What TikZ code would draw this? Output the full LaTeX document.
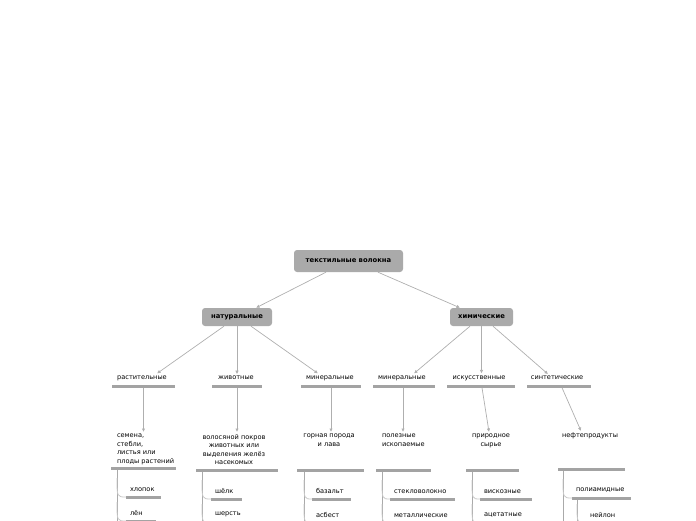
\documentclass[tikz,border=0pt]{standalone}
\usepackage{fontspec}
\setmainfont{DejaVu Sans}
\usetikzlibrary{arrows.meta, positioning}
\definecolor{boxgray}{RGB}{170,170,170}
\definecolor{bargray}{RGB}{163,163,163}
\definecolor{arrowgray}{RGB}{175,175,175}
\definecolor{trunkgray}{RGB}{170,170,170}
\definecolor{branchgray}{RGB}{200,200,200}

\begin{document}
\begin{tikzpicture}[x=1pt, y=-1pt,
    topbox/.style={rectangle, fill=boxgray, rounded corners=3pt, inner sep=0pt, font=\fontsize{6.8}{8}\selectfont\bfseries},
    lbl/.style={inner sep=0pt, outer sep=2pt, font=\fontsize{6.6}{8.6}\selectfont},
    bar/.style={rectangle, fill=bargray, inner sep=0pt, minimum height=3pt},
    conn/.style={draw=arrowgray, line width=0.7pt, -{Latex[length=3.5pt,width=3.5pt]}},
    trunk/.style={draw=trunkgray, line width=0.8pt},
    branch/.style={draw=branchgray, line width=0.8pt},
]
    \clip (0,0) rectangle (696,520);

    % top levels
    \node[topbox, minimum width=109pt, minimum height=22pt] (root) at (348.5,261) {текстильные волокна};
    \node[topbox, minimum width=70pt, minimum height=18pt] (nat) at (237,317) {натуральные};
    \node[topbox, minimum width=63pt, minimum height=18pt] (chem) at (481.5,317) {химические};

    \draw[conn] ([xshift=-22.5pt]root.south) -- ([xshift=19pt]nat.north);
    \draw[conn] ([xshift=29.5pt]root.south) -- ([xshift=-21.5pt]chem.north);

    % kinds
    \node[lbl] (plant) at (142,378) {растительные};
    \node[lbl] (animal) at (236,378) {животные};
    \node[lbl] (mineralA) at (330,378) {минеральные};
    \node[lbl] (mineralB) at (402,378) {минеральные};
    \node[lbl] (artif) at (479,378) {искусственные};
    \node[lbl] (synth) at (557,378) {синтетические};

    \node[bar, minimum width=63pt] (plantbar) at (143.5,386) {};
    \node[bar, minimum width=50pt] (animalbar) at (237,386) {};
    \node[bar, minimum width=60pt] (mineralAbar) at (331,386) {};
    \node[bar, minimum width=62pt] (mineralBbar) at (404,386) {};
    \node[bar, minimum width=68pt] (artifbar) at (481,386) {};
    \node[bar, minimum width=64pt] (synthbar) at (559,386) {};

    \draw[conn] ([xshift=-13pt]nat.south) -- ([xshift=15pt]plant.north);
    \draw[conn] (nat.south) -- (nat.south |- animal.north);
    \draw[conn] ([xshift=14pt]nat.south) -- ([xshift=-12pt]mineralA.north);
    \draw[conn] ([xshift=-11.5pt]chem.south) -- ([xshift=12pt]mineralB.north);
    \draw[conn] (chem.south) -- (chem.south |- artif.north);
    \draw[conn] ([xshift=11.5pt]chem.south) -- ([xshift=-9pt]synth.north);

    % sources
    \node[lbl, align=left, anchor=north west] (seeds) at (115,432) {семена,\\стебли,\\листья или\\плоды растений};
    \node[lbl, align=center, anchor=north] (hair) at (234,432) {волосяной покров\\животных или\\выделения желёз\\насекомых};
    \node[lbl, align=center, anchor=north] (rock) at (329,432) {горная порода\\и лава};
    \node[lbl, align=left, anchor=north west] (ore) at (380,432) {полезные\\ископаемые};
    \node[lbl, align=center, anchor=north] (raw) at (491,432) {природное\\сырье};
    \node[lbl, align=center, anchor=north] (oil) at (590,431) {нефтепродукты};

    \draw[conn] (plantbar.south) -- (plantbar.south |- seeds.north);
    \draw[conn] (animalbar.south) -- (animalbar.south |- hair.north);
    \draw[conn] (mineralAbar.south) -- (mineralAbar.south |- rock.north);
    \draw[conn] ([xshift=-1pt]mineralBbar.south) -- ([xshift=-1pt]mineralBbar.south |- ore.north);
    \draw[conn] ([xshift=1pt]artifbar.south) -- ([xshift=-2pt]raw.north);
    \draw[conn] ([xshift=3pt]synthbar.south) -- ([xshift=-9pt]oil.north);

    \node[bar, minimum width=65pt] (seedsbar) at (143.5,468) {};
    \node[bar, minimum width=82pt] (hairbar) at (237,470) {};
    \node[bar, minimum width=67pt] (rockbar) at (330.5,470) {};
    \node[bar, minimum width=55pt] (orebar) at (403.5,470) {};
    \node[bar, minimum width=53pt] (rawbar) at (492.5,470) {};
    \node[bar, minimum width=67pt] (oilbar) at (591.5,469) {};

    % fibres
    \coordinate (t1) at (117,540);
    \coordinate (t2) at (202,540);
    \coordinate (t3) at (304,540);
    \coordinate (t4) at (382,540);
    \coordinate (t5) at (472,540);
    \coordinate (t6) at (563,540);
    \coordinate (t7) at (577,560);

    \node[bar, minimum width=35pt, anchor=west] (cottonbar) at (126,497) {};
    \node[bar, minimum width=30pt, anchor=west] (flaxbar) at (126,521) {};
    \node[bar, minimum width=31pt, anchor=west] (silkbar) at (211,499) {};
    \node[bar, minimum width=36pt, anchor=west] (woolbar) at (211,523) {};
    \node[bar, minimum width=39pt, anchor=west] (basaltbar) at (312,499) {};
    \node[bar, minimum width=34pt, anchor=west] (asbestbar) at (312,523) {};
    \node[bar, minimum width=65pt, anchor=west] (glassbar) at (390,499) {};
    \node[bar, minimum width=65pt, anchor=west] (metalbar) at (390,523) {};
    \node[bar, minimum width=52pt, anchor=west] (viscosebar) at (480,499) {};
    \node[bar, minimum width=48pt, anchor=west] (acetatebar) at (480,523) {};
    \node[bar, minimum width=59pt, anchor=west] (polyamidebar) at (572,498) {};
    \node[bar, minimum width=36pt, anchor=west] (nylonbar) at (586,523) {};

    \node[lbl, anchor=south west] (cotton) at ([xshift=2pt,yshift=2pt]cottonbar.north west) {хлопок};
    \node[lbl, anchor=south west] (flax) at ([xshift=2pt,yshift=2pt]flaxbar.north west) {лён};
    \node[lbl, anchor=south west] (silk) at ([xshift=2pt,yshift=2pt]silkbar.north west) {шёлк};
    \node[lbl, anchor=south west] (wool) at ([xshift=2pt,yshift=2pt]woolbar.north west) {шерсть};
    \node[lbl, anchor=south west] (basalt) at ([xshift=2pt,yshift=2pt]basaltbar.north west) {базальт};
    \node[lbl, anchor=south west] (asbest) at ([xshift=2pt,yshift=2pt]asbestbar.north west) {асбест};
    \node[lbl, anchor=south west] (glass) at ([xshift=2pt,yshift=2pt]glassbar.north west) {стекловолокно};
    \node[lbl, anchor=south west] (metal) at ([xshift=2pt,yshift=2pt]metalbar.north west) {металлические};
    \node[lbl, anchor=south west] (viscose) at ([xshift=2pt,yshift=2pt]viscosebar.north west) {вискозные};
    \node[lbl, anchor=south west] (acetate) at ([xshift=2pt,yshift=2pt]acetatebar.north west) {ацетатные};
    \node[lbl, anchor=south west] (polyamide) at ([xshift=2pt,yshift=2pt]polyamidebar.north west) {полиамидные};
    \node[lbl, anchor=south west] (nylon) at ([xshift=2pt,yshift=2pt]nylonbar.north west) {нейлон};

    \draw[trunk] (seedsbar.south -| t1) -- (t1);
    \draw[trunk] (hairbar.south -| t2) -- (t2);
    \draw[trunk] (rockbar.south -| t3) -- (t3);
    \draw[trunk] (orebar.south -| t4) -- (t4);
    \draw[trunk] (rawbar.south -| t5) -- (t5);
    \draw[trunk] (oilbar.south -| t6) -- (t6);
    \draw[trunk] (polyamidebar.south -| t7) -- (t7);

    \draw[branch] ([yshift=19pt]cottonbar.west -| t1) .. controls (cottonbar.west -| t1) .. (cottonbar.west);
    \draw[branch] ([yshift=19pt]flaxbar.west -| t1) .. controls (flaxbar.west -| t1) .. (flaxbar.west);
    \draw[branch] ([yshift=19pt]silkbar.west -| t2) .. controls (silkbar.west -| t2) .. (silkbar.west);
    \draw[branch] ([yshift=19pt]woolbar.west -| t2) .. controls (woolbar.west -| t2) .. (woolbar.west);
    \draw[branch] ([yshift=19pt]basaltbar.west -| t3) .. controls (basaltbar.west -| t3) .. (basaltbar.west);
    \draw[branch] ([yshift=19pt]asbestbar.west -| t3) .. controls (asbestbar.west -| t3) .. (asbestbar.west);
    \draw[branch] ([yshift=19pt]glassbar.west -| t4) .. controls (glassbar.west -| t4) .. (glassbar.west);
    \draw[branch] ([yshift=19pt]metalbar.west -| t4) .. controls (metalbar.west -| t4) .. (metalbar.west);
    \draw[branch] ([yshift=19pt]viscosebar.west -| t5) .. controls (viscosebar.west -| t5) .. (viscosebar.west);
    \draw[branch] ([yshift=19pt]acetatebar.west -| t5) .. controls (acetatebar.west -| t5) .. (acetatebar.west);
    \draw[branch] ([yshift=19pt]polyamidebar.west -| t6) .. controls (polyamidebar.west -| t6) .. (polyamidebar.west);
    \draw[branch] ([yshift=19pt]nylonbar.west -| t7) .. controls (nylonbar.west -| t7) .. (nylonbar.west);
\end{tikzpicture}
\end{document}
